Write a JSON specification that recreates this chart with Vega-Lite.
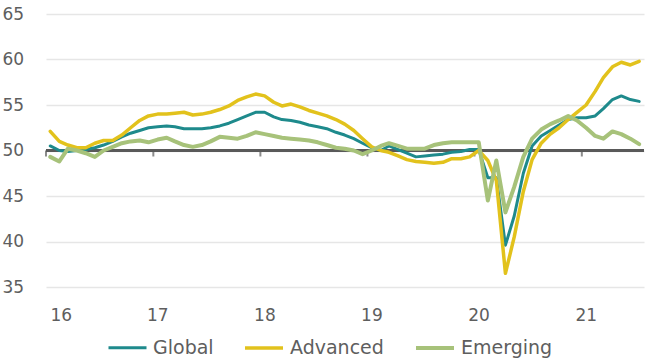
{
  "$schema": "https://vega.github.io/schema/vega-lite/v6.json",
  "width": 598,
  "height": 273,
  "autosize": "none",
  "padding": {"left": 46, "top": 14, "right": 6, "bottom": 76},
  "background": "white",
  "config": {
    "view": {"stroke": null},
    "font": "DejaVu Sans"
  },
  "datasets": {
    "pmi": [
      {"d": "2016-01-15T12:00", "Global": 50.5, "Advanced": 52.1, "Emerging": 49.3},
      {"d": "2016-02-15T12:00", "Global": 50.0, "Advanced": 51.0, "Emerging": 48.8},
      {"d": "2016-03-15T12:00", "Global": 49.9, "Advanced": 50.6, "Emerging": 50.2},
      {"d": "2016-04-15T12:00", "Global": 50.0, "Advanced": 50.3, "Emerging": 50.0},
      {"d": "2016-05-15T12:00", "Global": 50.1, "Advanced": 50.3, "Emerging": 49.7},
      {"d": "2016-06-15T12:00", "Global": 50.3, "Advanced": 50.8, "Emerging": 49.3},
      {"d": "2016-07-15T12:00", "Global": 50.6, "Advanced": 51.1, "Emerging": 50.0},
      {"d": "2016-08-15T12:00", "Global": 51.0, "Advanced": 51.1, "Emerging": 50.4},
      {"d": "2016-09-15T12:00", "Global": 51.5, "Advanced": 51.7, "Emerging": 50.8},
      {"d": "2016-10-15T12:00", "Global": 51.9, "Advanced": 52.5, "Emerging": 51.0},
      {"d": "2016-11-15T12:00", "Global": 52.2, "Advanced": 53.3, "Emerging": 51.1},
      {"d": "2016-12-15T12:00", "Global": 52.5, "Advanced": 53.8, "Emerging": 50.9},
      {"d": "2017-01-15T12:00", "Global": 52.6, "Advanced": 54.0, "Emerging": 51.2},
      {"d": "2017-02-15T12:00", "Global": 52.7, "Advanced": 54.0, "Emerging": 51.4},
      {"d": "2017-03-15T12:00", "Global": 52.6, "Advanced": 54.1, "Emerging": 51.0},
      {"d": "2017-04-15T12:00", "Global": 52.4, "Advanced": 54.2, "Emerging": 50.6},
      {"d": "2017-05-15T12:00", "Global": 52.4, "Advanced": 53.9, "Emerging": 50.4},
      {"d": "2017-06-15T12:00", "Global": 52.4, "Advanced": 54.0, "Emerging": 50.6},
      {"d": "2017-07-15T12:00", "Global": 52.5, "Advanced": 54.2, "Emerging": 51.0},
      {"d": "2017-08-15T12:00", "Global": 52.7, "Advanced": 54.5, "Emerging": 51.5},
      {"d": "2017-09-15T12:00", "Global": 53.0, "Advanced": 54.9, "Emerging": 51.4},
      {"d": "2017-10-15T12:00", "Global": 53.4, "Advanced": 55.5, "Emerging": 51.3},
      {"d": "2017-11-15T12:00", "Global": 53.8, "Advanced": 55.9, "Emerging": 51.6},
      {"d": "2017-12-15T12:00", "Global": 54.2, "Advanced": 56.2, "Emerging": 52.0},
      {"d": "2018-01-15T12:00", "Global": 54.2, "Advanced": 56.0, "Emerging": 51.8},
      {"d": "2018-02-15T12:00", "Global": 53.7, "Advanced": 55.3, "Emerging": 51.6},
      {"d": "2018-03-15T12:00", "Global": 53.4, "Advanced": 54.9, "Emerging": 51.4},
      {"d": "2018-04-15T12:00", "Global": 53.3, "Advanced": 55.1, "Emerging": 51.3},
      {"d": "2018-05-15T12:00", "Global": 53.1, "Advanced": 54.8, "Emerging": 51.2},
      {"d": "2018-06-15T12:00", "Global": 52.8, "Advanced": 54.4, "Emerging": 51.1},
      {"d": "2018-07-15T12:00", "Global": 52.6, "Advanced": 54.1, "Emerging": 50.9},
      {"d": "2018-08-15T12:00", "Global": 52.4, "Advanced": 53.8, "Emerging": 50.6},
      {"d": "2018-09-15T12:00", "Global": 52.0, "Advanced": 53.4, "Emerging": 50.3},
      {"d": "2018-10-15T12:00", "Global": 51.7, "Advanced": 52.9, "Emerging": 50.2},
      {"d": "2018-11-15T12:00", "Global": 51.3, "Advanced": 52.2, "Emerging": 50.0},
      {"d": "2018-12-15T12:00", "Global": 50.8, "Advanced": 51.3, "Emerging": 49.6},
      {"d": "2019-01-15T12:00", "Global": 50.3, "Advanced": 50.4, "Emerging": 50.0},
      {"d": "2019-02-15T12:00", "Global": 50.0, "Advanced": 50.0, "Emerging": 50.5},
      {"d": "2019-03-15T12:00", "Global": 50.5, "Advanced": 49.8, "Emerging": 50.8},
      {"d": "2019-04-15T12:00", "Global": 50.1, "Advanced": 49.4, "Emerging": 50.5},
      {"d": "2019-05-15T12:00", "Global": 49.7, "Advanced": 49.0, "Emerging": 50.2},
      {"d": "2019-06-15T12:00", "Global": 49.3, "Advanced": 48.8, "Emerging": 50.2},
      {"d": "2019-07-15T12:00", "Global": 49.4, "Advanced": 48.7, "Emerging": 50.2},
      {"d": "2019-08-15T12:00", "Global": 49.5, "Advanced": 48.6, "Emerging": 50.6},
      {"d": "2019-09-15T12:00", "Global": 49.6, "Advanced": 48.7, "Emerging": 50.8},
      {"d": "2019-10-15T12:00", "Global": 49.8, "Advanced": 49.1, "Emerging": 50.9},
      {"d": "2019-11-15T12:00", "Global": 49.9, "Advanced": 49.1, "Emerging": 50.9},
      {"d": "2019-12-15T12:00", "Global": 50.1, "Advanced": 49.3, "Emerging": 50.9},
      {"d": "2020-01-15T12:00", "Global": 50.1, "Advanced": 50.0, "Emerging": 50.9},
      {"d": "2020-02-15T12:00", "Global": 47.0, "Advanced": 48.9, "Emerging": 44.5},
      {"d": "2020-03-15T12:00", "Global": 47.0, "Advanced": 46.7, "Emerging": 48.9},
      {"d": "2020-04-15T12:00", "Global": 39.6, "Advanced": 36.5, "Emerging": 43.2},
      {"d": "2020-05-15T12:00", "Global": 42.8, "Advanced": 40.5, "Emerging": 46.0},
      {"d": "2020-06-15T12:00", "Global": 47.5, "Advanced": 45.5, "Emerging": 49.3},
      {"d": "2020-07-15T12:00", "Global": 50.5, "Advanced": 49.0, "Emerging": 51.3},
      {"d": "2020-08-15T12:00", "Global": 51.6, "Advanced": 50.8, "Emerging": 52.3},
      {"d": "2020-09-15T12:00", "Global": 52.2, "Advanced": 51.8, "Emerging": 52.9},
      {"d": "2020-10-15T12:00", "Global": 52.8, "Advanced": 52.5, "Emerging": 53.3},
      {"d": "2020-11-15T12:00", "Global": 53.4, "Advanced": 53.4, "Emerging": 53.8},
      {"d": "2020-12-15T12:00", "Global": 53.6, "Advanced": 54.2, "Emerging": 53.3},
      {"d": "2021-01-15T12:00", "Global": 53.6, "Advanced": 55.0, "Emerging": 52.5},
      {"d": "2021-02-15T12:00", "Global": 53.8, "Advanced": 56.5, "Emerging": 51.6},
      {"d": "2021-03-15T12:00", "Global": 54.6, "Advanced": 58.0, "Emerging": 51.3},
      {"d": "2021-04-15T12:00", "Global": 55.6, "Advanced": 59.2, "Emerging": 52.1},
      {"d": "2021-05-15T12:00", "Global": 56.0, "Advanced": 59.7, "Emerging": 51.8},
      {"d": "2021-06-15T12:00", "Global": 55.6, "Advanced": 59.4, "Emerging": 51.3},
      {"d": "2021-07-15T12:00", "Global": 55.4, "Advanced": 59.8, "Emerging": 50.7}
    ],
    "years": [
      {"d": "2016-01-01T00:00"},
      {"d": "2017-01-01T00:00"},
      {"d": "2018-01-01T00:00"},
      {"d": "2019-01-01T00:00"},
      {"d": "2020-01-01T00:00"},
      {"d": "2021-01-01T00:00"}
    ]
  },
  "layer": [
    {
      "data": {"name": "years"},
      "mark": {"type": "rule", "color": "#5a5a5a", "strokeWidth": 2.5},
      "encoding": {
        "y": {
          "datum": 50,
          "type": "quantitative",
          "scale": {"domain": [35, 65], "nice": false},
          "axis": {
            "values": [35, 40, 45, 50, 55, 60, 65],
            "title": null,
            "domain": false,
            "ticks": false,
            "grid": true,
            "gridColor": "#e6e6e6",
            "gridWidth": 1.5,
            "labelAlign": "left",
            "labelBaseline": "middle",
            "labelPadding": 44,
            "labelFontSize": 17,
            "labelColor": "#5e5e5e"
          }
        }
      }
    },
    {
      "data": {"name": "years"},
      "mark": {"type": "tick", "orient": "vertical", "color": "#5a5a5a", "thickness": 2, "size": 6, "yOffset": 3},
      "encoding": {
        "x": {
          "field": "d",
          "type": "temporal",
          "scale": {"domain": ["2016-01-01T00:00", "2021-08-01T00:00"]},
          "axis": {
            "values": ["2016-01-01T00:00", "2017-01-01T00:00", "2018-01-01T00:00", "2019-01-01T00:00", "2020-01-01T00:00", "2021-01-01T00:00"],
            "format": "%y",
            "title": null,
            "domain": false,
            "ticks": false,
            "grid": false,
            "labelPadding": 20,
            "labelOffset": 4,
            "labelFontSize": 17,
            "labelColor": "#5e5e5e"
          }
        },
        "y": {"datum": 50, "type": "quantitative"}
      }
    },
    {
      "data": {"name": "pmi"},
      "transform": [
        {"fold": ["Global", "Advanced", "Emerging"], "as": ["series", "value"]}
      ],
      "mark": {"type": "line", "strokeJoin": "round", "strokeCap": "round"},
      "encoding": {
        "x": {"field": "d", "type": "temporal"},
        "y": {"field": "value", "type": "quantitative"},
        "color": {
          "field": "series",
          "type": "nominal",
          "scale": {
            "domain": ["Global", "Advanced", "Emerging"],
            "range": ["#1e8a8c", "#e2c21c", "#a7c27a"]
          },
          "legend": {
            "title": null,
            "orient": "none",
            "legendX": 61,
            "legendY": 313,
            "direction": "horizontal",
            "symbolType": "stroke",
            "symbolSize": 1444,
            "symbolStrokeWidth": 3,
            "labelFontSize": 19,
            "labelColor": "#5e5e5e",
            "labelOffset": 5,
            "columnPadding": 24
          }
        },
        "strokeWidth": {
          "field": "series",
          "type": "nominal",
          "scale": {"domain": ["Global", "Advanced", "Emerging"], "range": [3, 4, 2.5]},
          "legend": null
        }
      }
    }
  ]
}
